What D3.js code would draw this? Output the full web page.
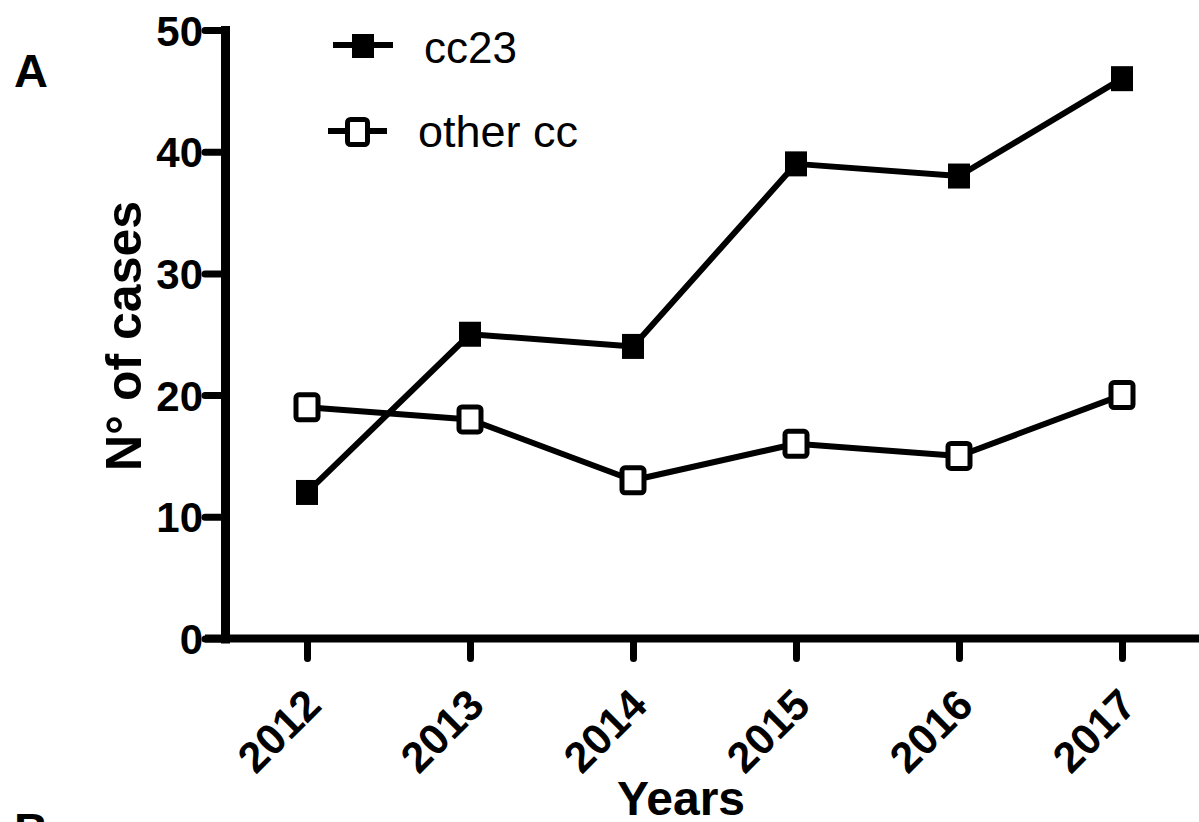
<!DOCTYPE html>
<html>
<head>
<meta charset="utf-8">
<script src="https://cdn.jsdelivr.net/npm/d3@7/dist/d3.min.js"></script>
<style>
  html, body { margin: 0; padding: 0; background: #fff; }
  svg { display: block; font-family: "Liberation Sans", Arial, Helvetica, sans-serif; }
</style>
</head>
<body>
<svg id="chart" width="1199" height="822"></svg>
<script>
const years = ["2012", "2013", "2014", "2015", "2016", "2017"];
const cc23 = [12, 25, 24, 39, 38, 46];
const otherCC = [19, 18, 13, 16, 15, 20];
const yTicks = [0, 10, 20, 30, 40, 50];
const seriesNames = ["cc23", "other cc"];

const svg = d3.select("#chart");
const W = 1199, H = 822;
const axisX = 225, axisY = 638.5, topY = 30;

const x = d3.scalePoint().domain(years).range([307, 1122]);
const y = d3.scaleLinear().domain([0, 50]).range([axisY, topY]);

// Panel letters
svg.append("text").attr("x", 14).attr("y", 87).attr("font-size", 47).attr("font-weight", "bold").text("A");
svg.append("text").attr("x", 14).attr("y", 846).attr("font-size", 47).attr("font-weight", "bold").text("B");

// X axis
const gx = svg.append("g").attr("transform", `translate(0,${axisY})`)
  .call(d3.axisBottom(x).tickSize(17).tickSizeOuter(0).tickFormat(""));
gx.select(".domain").remove();
gx.append("line").attr("x1", 205).attr("x2", W + 5).attr("y1", 0).attr("y2", 0)
  .attr("stroke", "#000").attr("stroke-width", 8);
gx.selectAll(".tick line").attr("stroke", "#000").attr("stroke-width", 7).attr("stroke-linecap", "round")
  .attr("y1", 0).attr("y2", 20);
gx.selectAll(".tick").append("text")
  .attr("text-anchor", "end")
  .attr("fill", "#000")
  .attr("font-size", 43)
  .attr("font-weight", "bold")
  .attr("transform", "translate(16,69) rotate(-45)")
  .text(d => d);

// Y axis
const gy = svg.append("g").attr("transform", `translate(${axisX},0)`)
  .call(d3.axisLeft(y).tickValues(yTicks).tickSize(20).tickSizeOuter(0).tickFormat(d3.format("d")));
gy.select(".domain").attr("stroke", "#000").attr("stroke-width", 9).attr("stroke-linecap", "square");
gy.selectAll(".tick line").attr("stroke", "#000").attr("stroke-width", 7).attr("stroke-linecap", "round");
gy.selectAll(".tick text").attr("fill", "#000").attr("font-size", 42).attr("font-weight", "bold")
  .attr("x", -22).attr("dy", "0.36em")
  .attr("font-family", "Liberation Sans, Arial, sans-serif");

// Axis titles
svg.append("text")
  .attr("transform", "translate(141,336) rotate(-90)")
  .attr("text-anchor", "middle").attr("font-size", 50).attr("font-weight", "bold")
  .text("N° of cases");
svg.append("text")
  .attr("x", 681).attr("y", 815)
  .attr("text-anchor", "middle").attr("font-size", 48).attr("font-weight", "bold")
  .text("Years");

// Lines
const line = d3.line().x((d, i) => x(years[i])).y(d => y(d));
svg.append("path").datum(otherCC).attr("d", line)
  .attr("fill", "none").attr("stroke", "#000").attr("stroke-width", 6).attr("stroke-linejoin", "round");
svg.append("path").datum(cc23).attr("d", line)
  .attr("fill", "none").attr("stroke", "#000").attr("stroke-width", 6).attr("stroke-linejoin", "round");

const mw = 22, mh = 25;
// open markers
svg.append("g").selectAll("rect").data(otherCC).join("rect")
  .attr("x", (d, i) => x(years[i]) - mw / 2).attr("y", d => y(d) - mh / 2)
  .attr("width", mw).attr("height", mh).attr("rx", 3)
  .attr("fill", "#fff").attr("stroke", "#000").attr("stroke-width", 5);
// filled markers
svg.append("g").selectAll("rect").data(cc23).join("rect")
  .attr("x", (d, i) => x(years[i]) - mw / 2).attr("y", d => y(d) - mh / 2)
  .attr("width", mw).attr("height", mh)
  .attr("fill", "#000");

// Legend
const lg = svg.append("g");
// cc23
lg.append("line").attr("x1", 333).attr("x2", 393).attr("y1", 45).attr("y2", 45)
  .attr("stroke", "#000").attr("stroke-width", 6);
lg.append("rect").attr("x", 363 - mw / 2).attr("y", 46 - 12).attr("width", mw).attr("height", 24).attr("fill", "#000");
lg.append("text").attr("x", 424).attr("y", 63).attr("font-size", 44).text(seriesNames[0]);
// other cc
lg.append("line").attr("x1", 328).attr("x2", 387).attr("y1", 131).attr("y2", 131)
  .attr("stroke", "#000").attr("stroke-width", 6);
lg.append("rect").attr("x", 357.5 - 10).attr("y", 132 - 12.5).attr("width", 20).attr("height", 25).attr("rx", 3)
  .attr("fill", "#fff").attr("stroke", "#000").attr("stroke-width", 5);
lg.append("text").attr("x", 418).attr("y", 147).attr("font-size", 45).text(seriesNames[1]);
</script>
</body>
</html>
